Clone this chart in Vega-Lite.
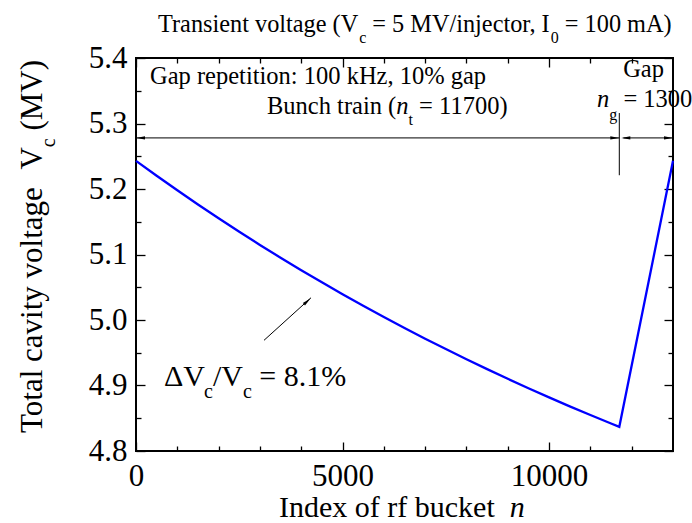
{
  "$schema": "https://vega.github.io/schema/vega-lite/v6.json",
  "width": 537,
  "height": 393,
  "autosize": {"type": "none"},
  "padding": {"left": 136, "top": 58, "right": 19, "bottom": 72},
  "background": "white",
  "config": {
    "font": "Times New Roman, Liberation Serif, serif",
    "view": {"stroke": "black", "strokeWidth": 2},
    "axis": {"domain": false, "grid": false, "tickColor": "black", "tickWidth": 1.3, "labelColor": "black", "labelFont": "Times New Roman, Liberation Serif, serif", "labelFontSize": 31, "labelFlush": false, "labelOverlap": false}
  },
  "datasets": {
    "curve": [
      {"n": 0, "v": 5.243}, {"n": 500, "v": 5.2202}, {"n": 1000, "v": 5.198}, {"n": 1500, "v": 5.1764},
      {"n": 2000, "v": 5.1553}, {"n": 2500, "v": 5.1347}, {"n": 3000, "v": 5.1146}, {"n": 3500, "v": 5.0951},
      {"n": 4000, "v": 5.0761}, {"n": 4500, "v": 5.0575}, {"n": 5000, "v": 5.0394}, {"n": 5500, "v": 5.0218},
      {"n": 6000, "v": 5.0046}, {"n": 6500, "v": 4.9878}, {"n": 7000, "v": 4.9715}, {"n": 7500, "v": 4.9556},
      {"n": 8000, "v": 4.9401}, {"n": 8500, "v": 4.925}, {"n": 9000, "v": 4.9102}, {"n": 9500, "v": 4.8959},
      {"n": 10000, "v": 4.8819}, {"n": 10500, "v": 4.8682}, {"n": 11000, "v": 4.8549}, {"n": 11500, "v": 4.842},
      {"n": 11700, "v": 4.8369}, {"n": 13000, "v": 5.243}
    ],
    "rules": [
      {"n1": 0, "v1": 5.278, "n2": 11700, "v2": 5.278},
      {"n1": 11800, "v1": 5.278, "n2": 13000, "v2": 5.278},
      {"n1": 11700, "v1": 5.221, "n2": 11700, "v2": 5.316},
      {"n1": 3099, "v1": 4.969, "n2": 4237, "v2": 5.034}
    ],
    "headsLeft": [{"n": 109, "v": 5.278}, {"n": 11857, "v": 5.278}],
    "headsRight": [{"n": 11591, "v": 5.278}, {"n": 12891, "v": 5.278}],
    "headsDiag": [{"n": 4147, "v": 5.0286}],
    "title": [
      {"n": 533, "v": 5.45, "t": "Transient voltage (V"},
      {"n": 5721, "v": 5.45, "t": "= 5 MV/injector, I"},
      {"n": 10381, "v": 5.45, "t": "= 100 mA)"}
    ],
    "sub16": [
      {"n": 5402, "v": 5.43, "t": "c"},
      {"n": 10040, "v": 5.43, "t": "0"},
      {"n": 6598, "v": 5.305, "t": "t"},
      {"n": 11457, "v": 5.313, "t": "g"}
    ],
    "annot": [
      {"n": 339, "v": 5.371, "t": "Gap repetition: 100 kHz, 10% gap"},
      {"n": 3171, "v": 5.325, "t": "Bunch train ("},
      {"n": 6854, "v": 5.325, "t": "= 11700)"},
      {"n": 11793, "v": 5.382, "t": "Gap"},
      {"n": 11799, "v": 5.336, "t": "= 1300"}
    ],
    "annotItalic": [
      {"n": 6301, "v": 5.325, "t": "n"},
      {"n": 11160, "v": 5.336, "t": "n"}
    ],
    "dv": [
      {"n": 678, "v": 4.913, "t": "ΔV"},
      {"n": 1862, "v": 4.913, "t": "/V"},
      {"n": 2985, "v": 4.913, "t": "= 8.1%"}
    ],
    "sub20": [
      {"n": 1647, "v": 4.89, "t": "c"},
      {"n": 2588, "v": 4.89, "t": "c"}
    ],
    "xtitle": [{"n": 3462, "v": 4.7137, "t": "Index of rf bucket"}],
    "xtitleItalic": [{"n": 9049, "v": 4.7137, "t": "n"}],
    "ytitle": [
      {"n": -2494, "v": 4.8275, "t": "Total cavity voltage"},
      {"n": -2494, "v": 5.2298, "t": "V"},
      {"n": -2494, "v": 5.2892, "t": "(MV)"}
    ],
    "ytitleSub": [{"n": -2107, "v": 5.2638, "t": "c"}]
  },
  "resolve": {"axis": {"x": "independent", "y": "independent"}},
  "layer": [
    {
      "data": {"name": "curve"},
      "mark": {"type": "line", "color": "#0000ff", "strokeWidth": 2.3},
      "encoding": {
        "x": {"field": "n", "type": "quantitative", "scale": {"domain": [0, 13000], "nice": false},
              "axis": {"orient": "bottom", "values": [0, 5000, 10000], "format": "d", "tickSize": -9, "labelPadding": 19, "title": null}},
        "y": {"field": "v", "type": "quantitative", "scale": {"domain": [4.8, 5.4], "nice": false, "zero": false},
              "axis": {"orient": "left", "values": [4.8, 4.9, 5.0, 5.1, 5.2, 5.3, 5.4], "format": ".1f", "tickSize": -9, "labelPadding": 18, "title": null}}
      }
    },
    {
      "data": {"name": "curve"},
      "mark": {"type": "line", "opacity": 0},
      "encoding": {
        "x": {"field": "n", "type": "quantitative", "scale": {"domain": [0, 13000], "nice": false},
              "axis": {"orient": "bottom", "values": [1000, 2000, 3000, 4000, 6000, 7000, 8000, 9000, 11000, 12000], "tickSize": -5, "labels": false, "title": null}},
        "y": {"field": "v", "type": "quantitative", "scale": {"domain": [4.8, 5.4], "nice": false, "zero": false},
              "axis": {"orient": "left", "values": [4.85, 4.95, 5.05, 5.15, 5.25, 5.35], "tickSize": -5, "labels": false, "title": null}}
      }
    },
    {
      "data": {"name": "curve"},
      "mark": {"type": "line", "opacity": 0},
      "encoding": {
        "x": {"field": "n", "type": "quantitative", "scale": {"domain": [0, 13000], "nice": false},
              "axis": {"orient": "top", "values": [0, 5000, 10000], "tickSize": -9, "labels": false, "title": null}},
        "y": {"field": "v", "type": "quantitative", "scale": {"domain": [4.8, 5.4], "nice": false, "zero": false},
              "axis": {"orient": "right", "values": [4.8, 4.9, 5.0, 5.1, 5.2, 5.3, 5.4], "tickSize": -9, "labels": false, "title": null}}
      }
    },
    {
      "data": {"name": "curve"},
      "mark": {"type": "line", "opacity": 0},
      "encoding": {
        "x": {"field": "n", "type": "quantitative", "scale": {"domain": [0, 13000], "nice": false},
              "axis": {"orient": "top", "values": [1000, 2000, 3000, 4000, 6000, 7000, 8000, 9000, 11000, 12000], "tickSize": -5, "labels": false, "title": null}},
        "y": {"field": "v", "type": "quantitative", "scale": {"domain": [4.8, 5.4], "nice": false, "zero": false},
              "axis": {"orient": "right", "values": [4.85, 4.95, 5.05, 5.15, 5.25, 5.35], "tickSize": -5, "labels": false, "title": null}}
      }
    },
    {
      "data": {"name": "rules"},
      "mark": {"type": "rule", "color": "black", "strokeWidth": 1},
      "encoding": {
        "x": {"field": "n1", "type": "quantitative", "axis": null},
        "y": {"field": "v1", "type": "quantitative", "axis": null},
        "x2": {"field": "n2"},
        "y2": {"field": "v2"}
      }
    },
    {
      "data": {"name": "headsLeft"},
      "mark": {"type": "point", "shape": "M0,-1L0.35,1L-0.35,1Z", "size": 81, "angle": -90, "filled": true, "color": "black", "opacity": 1},
      "encoding": {"x": {"field": "n", "type": "quantitative", "axis": null}, "y": {"field": "v", "type": "quantitative", "axis": null}}
    },
    {
      "data": {"name": "headsRight"},
      "mark": {"type": "point", "shape": "M0,-1L0.35,1L-0.35,1Z", "size": 81, "angle": 90, "filled": true, "color": "black", "opacity": 1},
      "encoding": {"x": {"field": "n", "type": "quantitative", "axis": null}, "y": {"field": "v", "type": "quantitative", "axis": null}}
    },
    {
      "data": {"name": "headsDiag"},
      "mark": {"type": "point", "shape": "M0,-1L0.35,1L-0.35,1Z", "size": 81, "angle": 48, "filled": true, "color": "black", "opacity": 1},
      "encoding": {"x": {"field": "n", "type": "quantitative", "axis": null}, "y": {"field": "v", "type": "quantitative", "axis": null}}
    },
    {
      "data": {"name": "title"},
      "mark": {"type": "text", "align": "left", "baseline": "middle", "fontSize": 24.3, "color": "black"},
      "encoding": {"x": {"field": "n", "type": "quantitative", "axis": null}, "y": {"field": "v", "type": "quantitative", "axis": null}, "text": {"field": "t"}}
    },
    {
      "data": {"name": "sub16"},
      "mark": {"type": "text", "align": "left", "baseline": "middle", "fontSize": 16, "color": "black"},
      "encoding": {"x": {"field": "n", "type": "quantitative", "axis": null}, "y": {"field": "v", "type": "quantitative", "axis": null}, "text": {"field": "t"}}
    },
    {
      "data": {"name": "annot"},
      "mark": {"type": "text", "align": "left", "baseline": "middle", "fontSize": 24.5, "color": "black"},
      "encoding": {"x": {"field": "n", "type": "quantitative", "axis": null}, "y": {"field": "v", "type": "quantitative", "axis": null}, "text": {"field": "t"}}
    },
    {
      "data": {"name": "annotItalic"},
      "mark": {"type": "text", "align": "left", "baseline": "middle", "fontSize": 24.5, "fontStyle": "italic", "color": "black"},
      "encoding": {"x": {"field": "n", "type": "quantitative", "axis": null}, "y": {"field": "v", "type": "quantitative", "axis": null}, "text": {"field": "t"}}
    },
    {
      "data": {"name": "dv"},
      "mark": {"type": "text", "align": "left", "baseline": "middle", "fontSize": 30, "color": "black"},
      "encoding": {"x": {"field": "n", "type": "quantitative", "axis": null}, "y": {"field": "v", "type": "quantitative", "axis": null}, "text": {"field": "t"}}
    },
    {
      "data": {"name": "sub20"},
      "mark": {"type": "text", "align": "left", "baseline": "middle", "fontSize": 20, "color": "black"},
      "encoding": {"x": {"field": "n", "type": "quantitative", "axis": null}, "y": {"field": "v", "type": "quantitative", "axis": null}, "text": {"field": "t"}}
    },
    {
      "data": {"name": "xtitle"},
      "mark": {"type": "text", "align": "left", "baseline": "middle", "fontSize": 30, "color": "black"},
      "encoding": {"x": {"field": "n", "type": "quantitative", "axis": null}, "y": {"field": "v", "type": "quantitative", "axis": null}, "text": {"field": "t"}}
    },
    {
      "data": {"name": "xtitleItalic"},
      "mark": {"type": "text", "align": "left", "baseline": "middle", "fontSize": 30, "fontStyle": "italic", "color": "black"},
      "encoding": {"x": {"field": "n", "type": "quantitative", "axis": null}, "y": {"field": "v", "type": "quantitative", "axis": null}, "text": {"field": "t"}}
    },
    {
      "data": {"name": "ytitle"},
      "mark": {"type": "text", "align": "left", "baseline": "middle", "angle": -90, "fontSize": 31, "color": "black"},
      "encoding": {"x": {"field": "n", "type": "quantitative", "axis": null}, "y": {"field": "v", "type": "quantitative", "axis": null}, "text": {"field": "t"}}
    },
    {
      "data": {"name": "ytitleSub"},
      "mark": {"type": "text", "align": "left", "baseline": "middle", "angle": -90, "fontSize": 20, "color": "black"},
      "encoding": {"x": {"field": "n", "type": "quantitative", "axis": null}, "y": {"field": "v", "type": "quantitative", "axis": null}, "text": {"field": "t"}}
    }
  ]
}
